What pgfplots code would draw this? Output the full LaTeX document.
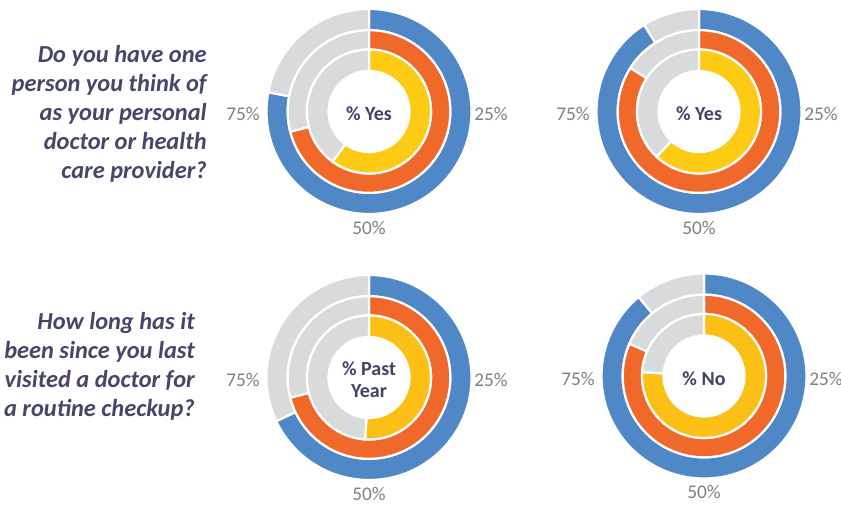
\documentclass[border=0pt]{standalone}
\usepackage{pgfplots}
\pgfplotsset{compat=1.18}
\usepackage{pgfplotstable}
\usepackage{fontspec}
\setmainfont{Carlito}
\definecolor{cblue}{HTML}{5087C7}
\definecolor{corange}{HTML}{F0692A}
\definecolor{cyellowA}{HTML}{FDCB14}
\definecolor{cyellowB}{HTML}{FCBF16}
\definecolor{cgray}{HTML}{D9DADC}
\definecolor{qtext}{HTML}{44466A}
\definecolor{ctext}{HTML}{404366}
\definecolor{ptext}{HTML}{7F7F7F}

% share (%) shown in colour on each ring: outer (blue), middle (orange), inner (yellow)
\pgfplotstableread{
blue orange yellow
78 71 60
}\dataA
\pgfplotstableread{
blue orange yellow
91 84 62
}\dataB
\pgfplotstableread{
blue orange yellow
68 71 51
}\dataC
\pgfplotstableread{
blue orange yellow
89 81.5 76
}\dataD

\pgfkeys{/donut/.cd, rout/.initial=50, rin/.initial=40, col/.initial=cblue}

\pgfdeclareplotmark{donutring}{%
  \pgfscope
  \pgfkeys{/pgf/fpu=false}%
  \pgfkeysgetvalue{/donut/rout}\rO
  \pgfkeysgetvalue{/donut/rin}\rI
  \pgfkeysgetvalue{/donut/col}\rcol
  \pgfmathsetmacro\endang{90-3.6*\pgfplotspointmeta}%
  \pgfsetlinewidth{1.65pt}%
  \pgfsetstrokecolor{white}%
  \pgfsetfillcolor{\rcol}%
  \pgfpathmoveto{\pgfpointpolar{90}{\rO pt}}%
  \pgfpatharc{90}{\endang}{\rO pt}%
  \pgfpathlineto{\pgfpointpolar{\endang}{\rI pt}}%
  \pgfpatharc{\endang}{90}{\rI pt}%
  \pgfpathclose
  \pgfusepath{fill,stroke}%
  \pgfsetfillcolor{cgray}%
  \pgfpathmoveto{\pgfpointpolar{\endang}{\rO pt}}%
  \pgfpatharc{\endang}{-270}{\rO pt}%
  \pgfpathlineto{\pgfpointpolar{-270}{\rI pt}}%
  \pgfpatharc{-270}{\endang}{\rI pt}%
  \pgfpathclose
  \pgfusepath{fill,stroke}%
  \endpgfscope
}

\pgfplotsset{ring/.style n args={3}{scatter, only marks, mark=donutring,
    point meta=explicit symbolic,
    scatter/@pre marker code/.code={},
    scatter/@post marker code/.code={},
    /donut/rout=#1, /donut/rin=#2, /donut/col=#3}}

\newcommand\donutaxis[4]{%
  \begin{axis}[hide axis, x=0.75pt, y=0.75pt,
      xmin=-150, xmax=150, ymin=-150, ymax=150,
      anchor=origin, at={#1}, clip=false]
    \addplot[ring={76.875}{60.975}{cblue}] table[x expr=0, y expr=0, meta=blue] {#2};
    \addplot[ring={60.975}{46.5}{corange}] table[x expr=0, y expr=0, meta=orange] {#2};
    \addplot[ring={46.5}{30.375}{#4}] table[x expr=0, y expr=0, meta=yellow] {#2};
    \node[text=ctext, font=\fontsize{15}{16.5}\selectfont\bfseries, align=center]
      at (axis cs:0,-2.5) {#3};
    \node[text=ptext, font=\fontsize{14.5}{17}\selectfont, anchor=west, inner sep=0]
      at (axis cs:105,-2.5) {25\%};
    \node[text=ptext, font=\fontsize{14.5}{17}\selectfont, anchor=east, inner sep=0]
      at (axis cs:-109,-2.5) {75\%};
    \node[text=ptext, font=\fontsize{14.5}{17}\selectfont, anchor=north, inner sep=0]
      at (axis cs:0,-109.5) {50\%};
  \end{axis}}

\begin{document}
\begin{tikzpicture}[x=0.75pt, y=0.75pt]
  \path[use as bounding box] (0,0) rectangle (841,504);
  \donutaxis{(276.75pt,294.375pt)}{\dataA}{\% Yes}{cyellowA}
  \donutaxis{(524.25pt,294.375pt)}{\dataB}{\% Yes}{cyellowA}
  \donutaxis{(276.75pt,94.875pt)}{\dataC}{\% Past\\Year}{cyellowB}
  \donutaxis{(528pt,96pt)}{\dataD}{\% No}{cyellowB}
  \node[anchor=east, align=right, text=qtext, inner sep=0,
    font=\fontsize{18.3}{21.75}\selectfont\bfseries\itshape]
    at (207,390) {Do you have one\\person you think of\\as your personal\\doctor or health\\care provider?};
  \node[anchor=east, align=right, text=qtext, inner sep=0,
    font=\fontsize{18.3}{21.75}\selectfont\bfseries\itshape]
    at (195,138) {How long has it\\been since you last\\visited a doctor for\\a routine checkup?};
\end{tikzpicture}
\end{document}
